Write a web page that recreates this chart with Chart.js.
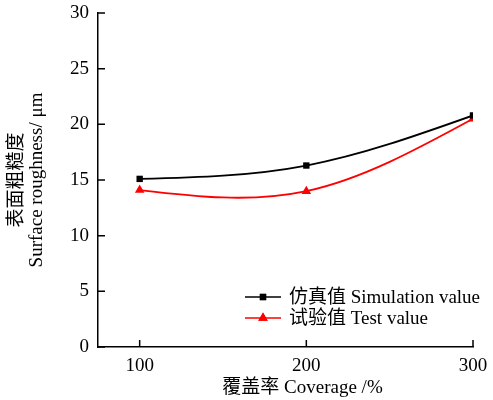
<!DOCTYPE html>
<html><head><meta charset="utf-8">
<script src="https://cdn.jsdelivr.net/npm/chart.js@4/dist/chart.umd.min.js"></script>
<style>html,body{margin:0;padding:0;background:#fff}#wrap{width:493px;height:400px}</style>
</head><body><div id="wrap"><canvas id="c"></canvas></div>
<script>
const coverage = [100, 200, 300];
const simulation = [15.1, 16.3, 20.8];
const test = [14.1, 14.0, 20.5];
const xTicks = [100, 200, 300];
const yTicks = [0, 5, 10, 15, 20, 25, 30];
const seriesNames = ['仿真值 Simulation value', '试验值 Test value'];
const xTitle = '覆盖率 Coverage /%';
const yTitle = ['表面粗糙度', 'Surface roughness/ μm'];
const FONT = '"Liberation Serif", "Times New Roman", "Noto Sans CJK SC", serif';

// Natural cubic spline control points, computed in pixel space from the library's scales
const naturalSpline = {
  id: 'naturalSpline',
  beforeDatasetsDraw(chart) {
    chart.data.datasets.forEach((ds, di) => {
      const meta = chart.getDatasetMeta(di);
      const line = meta.dataset;
      if (!line) return;
      line.updateControlPoints(chart.chartArea);
      const pts = meta.data;
      const n = pts.length;
      if (n < 3) return;
      const x = pts.map(p => p.x), y = pts.map(p => p.y);
      const h = [];
      for (let i = 0; i < n - 1; i++) h.push(x[i + 1] - x[i]);
      const M = new Array(n).fill(0);
      const a = [], b = [], c = [], d = [];
      for (let i = 1; i < n - 1; i++) {
        a.push(h[i - 1]); b.push(2 * (h[i - 1] + h[i])); c.push(h[i]);
        d.push(6 * ((y[i + 1] - y[i]) / h[i] - (y[i] - y[i - 1]) / h[i - 1]));
      }
      const m = b.length;
      for (let i = 1; i < m; i++) {
        const w = a[i] / b[i - 1];
        b[i] -= w * c[i - 1]; d[i] -= w * d[i - 1];
      }
      const sol = new Array(m);
      for (let i = m - 1; i >= 0; i--) sol[i] = (d[i] - (i < m - 1 ? c[i] * sol[i + 1] : 0)) / b[i];
      for (let i = 0; i < m; i++) M[i + 1] = sol[i];
      const D = new Array(n);
      for (let i = 0; i < n - 1; i++) D[i] = (y[i + 1] - y[i]) / h[i] - h[i] * (2 * M[i] + M[i + 1]) / 6;
      D[n - 1] = (y[n - 1] - y[n - 2]) / h[n - 2] + h[n - 2] * (M[n - 2] + 2 * M[n - 1]) / 6;
      for (let i = 0; i < n; i++) {
        const p = pts[i];
        const hp = i > 0 ? h[i - 1] : 0, hn = i < n - 1 ? h[i] : 0;
        p.cp1x = x[i] - hp / 3; p.cp1y = y[i] - D[i] * hp / 3;
        p.cp2x = x[i] + hn / 3; p.cp2y = y[i] + D[i] * hn / 3;
      }
      delete line._path;
    });
  }
};

const decorations = {
  id: 'decorations',
  afterDraw(chart) {
    const ctx = chart.ctx, xs = chart.scales.x, ys = chart.scales.y;
    ctx.save();
    ctx.strokeStyle = '#000'; ctx.lineWidth = 1.5;
    ctx.beginPath();
    xTicks.forEach(v => { const p = xs.getPixelForValue(v); ctx.moveTo(p, ys.bottom); ctx.lineTo(p, ys.bottom - 7); });
    yTicks.forEach(v => { const p = ys.getPixelForValue(v); ctx.moveTo(xs.left, p); ctx.lineTo(xs.left + 7, p); });
    ctx.stroke();
    ctx.fillStyle = '#000';
    ctx.font = '19px ' + FONT;
    ctx.textAlign = 'center'; ctx.textBaseline = 'middle';
    ctx.fillText(xTitle, (xs.left + xs.right) / 2 + 17, 388);
    const items = [
      {name: seriesNames[0], color: '#000', style: 'rect', r: 4.5},
      {name: seriesNames[1], color: '#ff0000', style: 'triangle', r: 5.5}
    ];
    const x0 = 245, x1 = 281, tx = 289;
    const rows = [297, 318];
    ctx.textAlign = 'left';
    items.forEach((it, i) => {
      const yy = rows[i];
      ctx.strokeStyle = it.color; ctx.lineWidth = 1.5;
      ctx.beginPath(); ctx.moveTo(x0, yy); ctx.lineTo(x1, yy); ctx.stroke();
      ctx.fillStyle = it.color;
      Chart.helpers.drawPoint(ctx, {pointStyle: it.style, radius: it.r, borderWidth: 0, rotation: 0}, (x0 + x1) / 2, yy);
      ctx.fill();
      ctx.fillStyle = '#000';
      ctx.fillText(it.name, tx, yy + 1);
    });
    ctx.restore();
  }
};

new Chart(document.getElementById('c'), {
  type: 'line',
  data: {
    datasets: [
      {label: seriesNames[0], data: coverage.map((x, i) => ({x, y: simulation[i]})),
       borderColor: '#000', backgroundColor: '#000', borderWidth: 1.8,
       pointStyle: 'rect', pointRadius: 4.5, pointBorderWidth: 0, tension: 0.4},
      {label: seriesNames[1], data: coverage.map((x, i) => ({x, y: test[i]})),
       borderColor: '#ff0000', backgroundColor: '#ff0000', borderWidth: 1.8,
       pointStyle: 'triangle', pointRadius: 5.5, pointBorderWidth: 0, tension: 0.4}
    ]
  },
  options: {
    responsive: true, maintainAspectRatio: false, animation: false,
    layout: {padding: {top: 13, right: 20, left: 0, bottom: 0}},
    plugins: {legend: {display: false}, tooltip: {enabled: false}},
    scales: {
      x: {
        type: 'linear', min: 75, max: 300,
        afterBuildTicks(s) { s.ticks = xTicks.map(v => ({value: v})); },
        afterFit(s) { s.height = 53; s.paddingLeft = 0; s.paddingRight = 0; },
        grid: {display: true, drawOnChartArea: false, drawTicks: false, tickLength: 0},
        border: {display: true, color: '#000', width: 1.5},
        ticks: {color: '#000', padding: 8, font: {family: FONT, size: 19}},
        title: {display: false}
      },
      y: {
        type: 'linear', min: 0, max: 30,
        afterBuildTicks(s) { s.ticks = yTicks.map(v => ({value: v})); },
        afterFit(s) { s.width = 98; s.paddingTop = 0; s.paddingBottom = 0; },
        grid: {display: true, drawOnChartArea: false, drawTicks: false, tickLength: 0},
        border: {display: true, color: '#000', width: 1.5},
        ticks: {color: '#000', padding: 9, font: {family: FONT, size: 19}},
        title: {display: true, text: yTitle, color: '#000', padding: {top: 7, bottom: 0}, font: {family: FONT, size: 19, lineHeight: 1.05}}
      }
    }
  },
  plugins: [naturalSpline, decorations]
});
</script></body></html>
